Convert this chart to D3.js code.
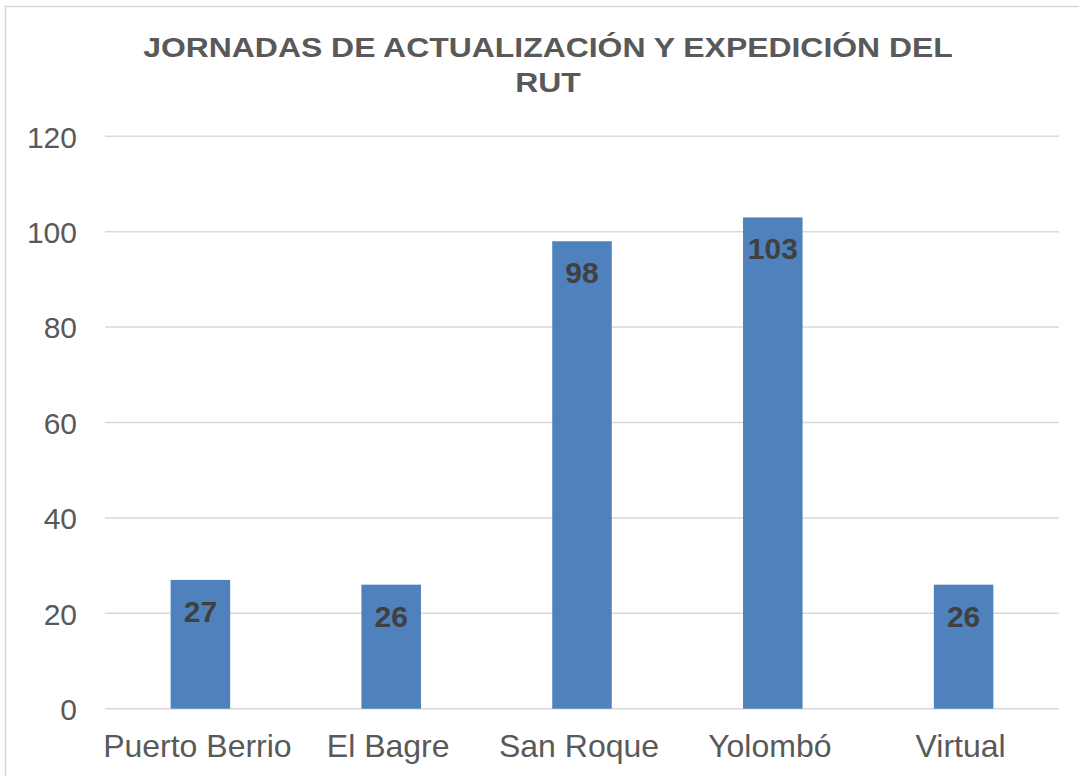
<!DOCTYPE html>
<html>
<head>
<meta charset="utf-8">
<script src="https://cdn.jsdelivr.net/npm/d3@7"></script>
<style>
  html, body { margin: 0; padding: 0; background: #fff; }
  svg text { font-family: Arial, "Liberation Sans", sans-serif; }
</style>
</head>
<body>
<div id="chart"></div>
<script>
// data
const categories = ['Puerto Berrio', 'El Bagre', 'San Roque', 'Yolombó', 'Virtual'];
const values = [27, 26, 98, 103, 26];
const yTicks = [0, 20, 40, 60, 80, 100, 120];
const titleLines = ['JORNADAS DE ACTUALIZACIÓN Y EXPEDICIÓN DEL', 'RUT'];

const W = 1079, H = 776;
const margin = { left: 105, right: 20, top: 136.3, bottom: 67.3 };

const svg = d3.select('#chart')
    .append('svg')
    .attr('width', W)
    .attr('height', H);

// chart border
svg.append('rect')
    .attr('x', 5.5)
    .attr('y', 6.5)
    .attr('width', W + 10)
    .attr('height', H + 10)
    .attr('fill', 'none')
    .attr('stroke', '#d9d9d9')
    .attr('stroke-width', 1.5);

const x = d3.scaleBand()
    .domain(categories)
    .range([margin.left, W - margin.right])
    .paddingInner(0.688)
    .paddingOuter(0.344);

const y = d3.scaleLinear()
    .domain([0, 120])
    .range([H - margin.bottom, margin.top]);

// gridlines
svg.append('g')
    .selectAll('line')
    .data(yTicks)
    .enter()
    .append('line')
    .attr('x1', margin.left)
    .attr('x2', W - margin.right)
    .attr('y1', d => y(d))
    .attr('y2', d => y(d))
    .attr('stroke', '#d9d9d9')
    .attr('stroke-width', 1.5);

// y axis labels
svg.append('g')
    .attr('transform', 'translate(77,0)')
    .call(d3.axisLeft(y).tickValues(yTicks).tickSize(0).tickPadding(0))
    .call(g => g.select('.domain').remove())
    .call(g => g.selectAll('text')
        .attr('fill', '#595959')
        .attr('font-size', 30)
        .attr('font-family', 'Arial, "Liberation Sans", sans-serif')
        .attr('dy', '0.36em'));

// bars
svg.append('g')
    .selectAll('rect')
    .data(values)
    .enter()
    .append('rect')
    .attr('x', (d, i) => x(categories[i]))
    .attr('y', d => y(d))
    .attr('width', x.bandwidth())
    .attr('height', d => y(0) - y(d))
    .attr('fill', '#4f81bd');

// value labels
svg.append('g')
    .selectAll('text')
    .data(values)
    .enter()
    .append('text')
    .attr('x', (d, i) => x(categories[i]) + x.bandwidth() / 2)
    .attr('y', d => y(d) + 42)
    .attr('text-anchor', 'middle')
    .attr('font-size', 30)
    .attr('font-weight', 'bold')
    .attr('fill', '#404040')
    .text(d => d);

// x axis labels
svg.append('g')
    .attr('transform', `translate(-3,${y(0)})`)
    .call(d3.axisBottom(x).tickSize(0).tickPadding(0))
    .call(g => g.select('.domain').remove())
    .call(g => g.selectAll('text')
        .attr('fill', '#595959')
        .attr('font-size', 32)
        .attr('font-family', 'Arial, "Liberation Sans", sans-serif')
        .attr('dy', null)
        .attr('y', 48));

// title (reference glyphs are a bit wider than tall, so stretch horizontally)
svg.append('g')
    .attr('transform', 'translate(548,0) scale(1.14,1)')
    .selectAll('text')
    .data(titleLines)
    .enter()
    .append('text')
    .attr('x', 0)
    .attr('y', (d, i) => 57 + i * 35)
    .attr('text-anchor', 'middle')
    .attr('font-size', 28)
    .attr('font-weight', 'bold')
    .attr('fill', '#595959')
    .text(d => d);
</script>
</body>
</html>
